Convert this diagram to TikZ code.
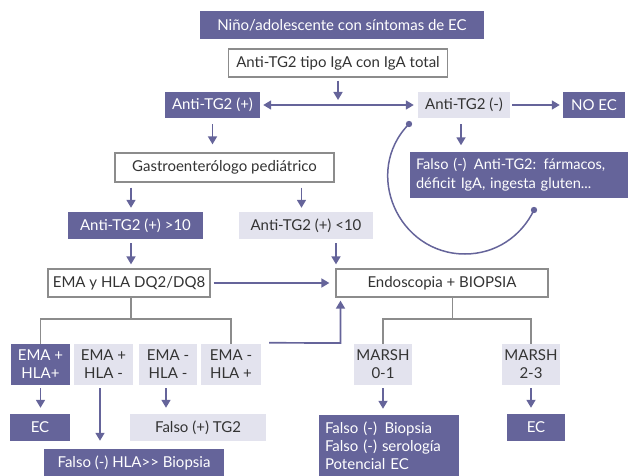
\documentclass[tikz,border=0pt]{standalone}
\usepackage{fontspec}
\setmainfont{Lato}
\usetikzlibrary{arrows.meta}
\definecolor{dk}{RGB}{101,100,154}
\definecolor{lt}{RGB}{227,227,238}
\definecolor{gr}{RGB}{140,140,140}
\begin{document}
\begin{tikzpicture}[x=1pt,y=-1pt,
  box/.style={inner sep=0pt, align=center, font=\fontsize{15}{18}\selectfont},
  dkbox/.style={box, fill=dk, text=white},
  ltbox/.style={box, fill=lt, text=black!80},
  wbox/.style={box, draw=gr, line width=1.3pt, fill=white, text=black!80},
  arr/.style={draw=dk, line width=1.7pt, -{Triangle[length=8pt,width=9pt]}},
  arrb/.style={draw=dk, line width=1.7pt, {Triangle[length=8pt,width=9pt]}-{Triangle[length=8pt,width=9pt]}},
  tree/.style={draw=gr, line width=1.3pt},
  sz/.style 2 args={minimum width=#1pt, minimum height=#2pt}]
\useasboundingbox (0,0) rectangle (640,476);
% nodes
\node[dkbox, sz={284}{28}] (top) at (342,25) {Niño/adolescente con síntomas de EC};
\node[wbox, sz={219}{28}] (iga) at (338,63) {Anti-TG2 tipo IgA con IgA total};
\node[dkbox, sz={95}{26}] (pos) at (212.5,105) {Anti-TG2 (+)};
\node[ltbox, sz={92}{26}] (neg) at (464,105) {Anti-TG2 (-)};
\node[dkbox, sz={62}{26}] (noec) at (594,105) {NO EC};
\node[wbox, sz={219}{29}] (gastro) at (224.5,167.5) {Gastroenterólogo pediátrico};
\node[dkbox, sz={218}{45}, align=left, text width=206pt, font=\fontsize{14.6}{19}\selectfont] (fal1) at (519,175) {Falso (-)\, Anti-TG2: fármacos,\\déficit IgA, ingesta gluten...};
\node[dkbox, sz={135}{27}] (pos10) at (135.5,225.5) {Anti-TG2 (+) \textgreater10};
\node[ltbox, sz={134}{27}] (poslt) at (306,225.5) {Anti-TG2 (+) \textless10};
\node[wbox, sz={162}{28}] (ema) at (129,283) {EMA y HLA DQ2/DQ8};
\node[wbox, sz={212}{28}] (endo) at (442,283) {Endoscopia + BIOPSIA};
\node[dkbox, sz={59}{41}] (e1) at (40.5,364.5) {EMA +\\HLA+};
\node[ltbox, sz={59}{41}] (e2) at (103.5,364.5) {EMA +\\HLA -};
\node[ltbox, sz={58}{41}] (e3) at (168,364.5) {EMA -\\HLA -};
\node[ltbox, sz={60}{41}] (e4) at (231,364.5) {EMA -\\HLA +};
\node[ltbox, sz={58}{41}] (m01) at (383,364.5) {MARSH\\0-1};
\node[ltbox, sz={58}{41}] (m23) at (531,364.5) {MARSH\\2-3};
\node[dkbox, sz={60}{27}] (ec1) at (40,427.5) {EC};
\node[dkbox, sz={180}{27}] (hla) at (134,462.5) {Falso (-) HLA\textgreater{}\kern0pt\textgreater{} Biopsia};
\node[ltbox, sz={136}{27}] (ftg) at (198,427.5) {Falso (+) TG2};
\node[dkbox, sz={140}{61}, align=left, text width=128pt] (fbio) at (389,445.5) {Falso (-)\, Biopsia\\Falso (-) serología\\Potencial EC};
\node[dkbox, sz={58}{27}] (ec2) at (536,427.5) {EC};
% helper coordinates
\coordinate (j1) at (338,100);
\coordinate (cA) at (131,0);
\coordinate (cB) at (301.5,0);
\coordinate (cC) at (336,0);
\coordinate (t1) at (131,319);
\coordinate (t2) at (452.5,319);
\coordinate (t3) at (340.5,343);
% connectors
\draw[arr, shorten <=3pt] (iga.south) -- (j1);
\draw[arrb, shorten <=3pt, shorten >=4pt] (pos.east) -- (neg.west);
\draw[arr, shorten <=2pt, shorten >=3pt] (neg.east) -- (noec.west);
\draw[arr, shorten <=6pt, shorten >=8pt] (pos.south) -- (pos.south |- gastro.north);
\draw[arr, shorten <=6pt, shorten >=7pt] (neg.south -| 461,0) -- (fal1.north -| 461,0);
\draw[arr, shorten <=5pt, shorten >=4pt] (gastro.south -| cA) -- (pos10.north -| cA);
\draw[arr, shorten <=5pt, shorten >=4pt] (gastro.south -| cB) -- (poslt.north -| cB);
\draw[arr, shorten <=4pt, shorten >=4pt] (pos10.south -| cA) -- (ema.north -| cA);
\draw[arr, shorten <=4pt, shorten >=4pt] (poslt.south -| cC) -- (endo.north -| cC);
\draw[arr, shorten <=3pt, shorten >=6pt] (ema.east) -- (endo.west);
\draw[tree] (ema.south -| t1) -- (t1);
\draw[tree] (e1.north) |- (t1) -| (e4.north);
\draw[tree] (endo.south -| t2) -- (t2);
\draw[tree] (m01.north) |- (t2) -| (m23.north);
\draw[arr, shorten >=3pt] ([xshift=8pt,yshift=1pt]e4.north east) -- (t3) -- (endo.south -| t3);
\draw[arr, shorten <=3pt, shorten >=6pt] (e1.south) -- (e1.south |- ec1.north);
\draw[arr, shorten <=3pt, shorten >=8pt] ([xshift=-3.5pt]e2.south) -- ([xshift=-3.5pt]e2.south |- hla.north);
\draw[arr, shorten <=3pt, shorten >=6pt] ([xshift=-2pt]e3.south) -- ([xshift=-2pt]e3.south |- ftg.north);
\draw[arr, shorten <=3pt, shorten >=6pt] (m01.south) -- (m01.south |- fbio.north);
\draw[arr, shorten <=3pt, shorten >=6pt] (m23.south) -- (m23.south |- ec2.north);
% loop curve
\coordinate (c1) at (409,124);
\coordinate (c2) at (465,254);
\coordinate (c3) at (534,210);
\draw[dk, line width=1.5pt] (c1) .. controls (362,172) and (398,254) .. (c2) .. controls (495,254) and (521,237) .. (c3);
\fill[dk] (c1) circle (3.2pt) (c3) circle (3.2pt);
\end{tikzpicture}
\end{document}
